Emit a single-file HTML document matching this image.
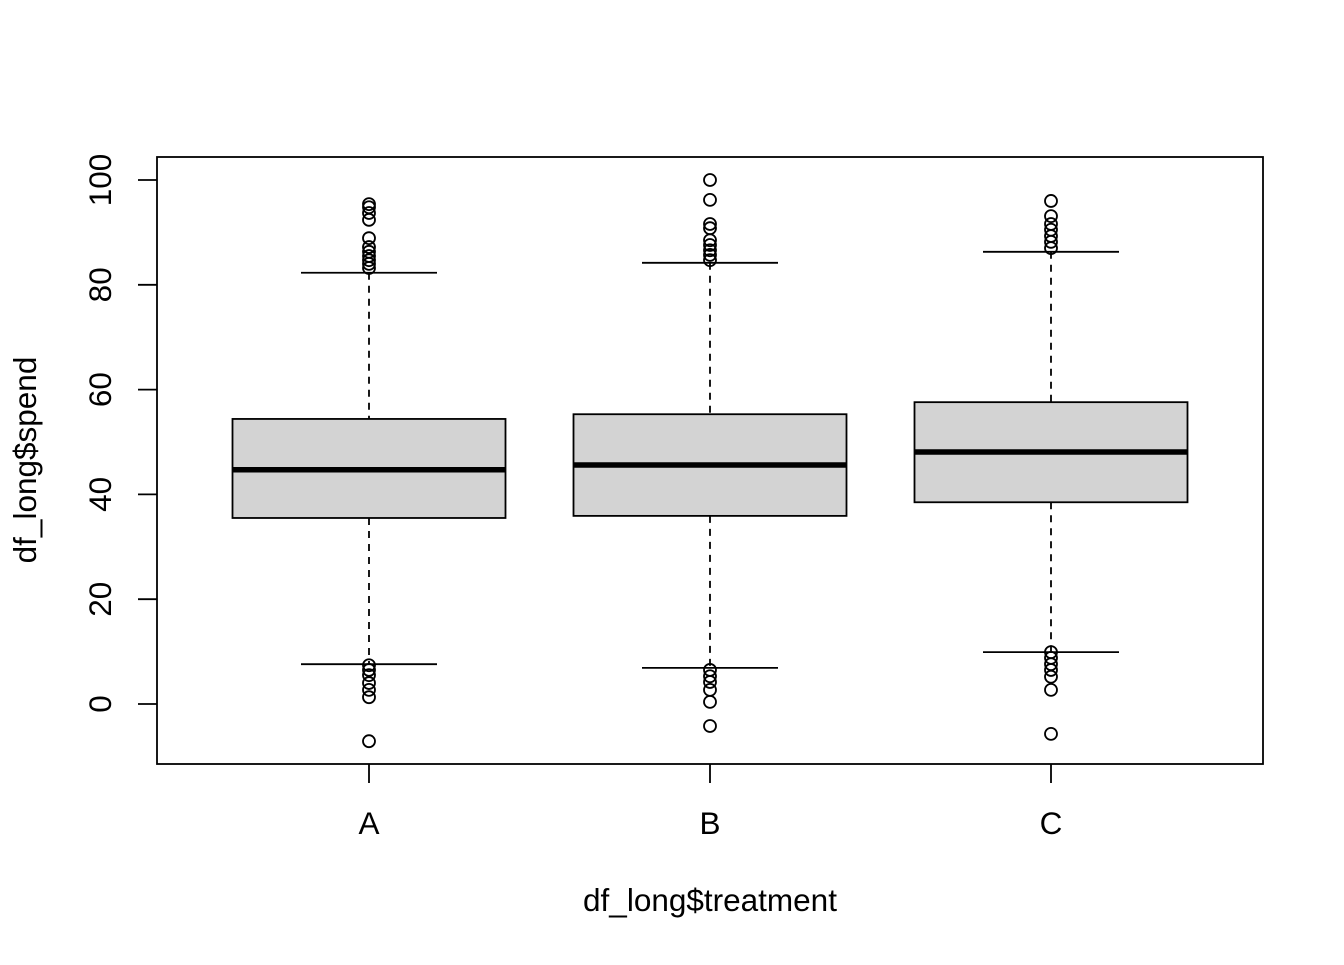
<!DOCTYPE html>
<html><head><meta charset="utf-8"><style>
body{margin:0;background:#fff}
svg{font-family:"Liberation Sans",Arial,sans-serif}
</style></head><body>
<svg id="c" width="1344" height="960"></svg>
<script>
const categories=["A","B","C"];
const q1=[35.5,35.9,38.5];
const medians=[44.7,45.6,48.1];
const q3=[54.4,55.3,57.6];
const whiskLo=[7.6,6.9,9.9];
const whiskHi=[82.3,84.2,86.3];
const outliersA=[95.4,94.8,93.7,92.4,88.9,87.2,86.3,85.5,84.7,84.0,83.2,7.4,6.5,5.5,4.0,2.7,1.3,-7.1];
const outliersB=[100,96.2,91.6,90.8,88.5,87.6,86.6,85.7,84.7,6.5,5.3,4.2,2.7,0.4,-4.2];
const outliersC=[96,93.1,91.6,90.5,89.3,88.2,87.0,9.9,8.8,7.6,6.5,5.2,2.7,-5.7];
const outliers=[outliersA,outliersB,outliersC];
const yTicks=[0,20,40,60,80,100];

const NS="http://www.w3.org/2000/svg";
const svg=document.getElementById('c');
function y(v){return 704-v*5.24;}
function x(i){return 369+i*341;}
function mk(t,a,p){const e=document.createElementNS(NS,t);for(const k in a)e.setAttribute(k,a[k]);(p||svg).appendChild(e);return e;}

let frame=mk('rect',{x:157,y:157,width:1106,height:607,fill:'none',stroke:'#000','stroke-width':1.8});



yTicks.forEach(t=>{
  const g=mk('g',{});
  
  
  mk('line',{x1:138,x2:157,y1:y(t),y2:y(t),stroke:'#000','stroke-width':1.8},g);
  const tx=mk('text',{x:111,y:y(t),'font-size':31.5,'text-anchor':'middle',transform:`rotate(-90 111 ${y(t)})`},g);
  tx.textContent=t;
});

categories.forEach((c,i)=>{
  const cx=x(i),hw=136.5;
  const g=mk('g',{});
  
  
  mk('line',{x1:cx,x2:cx,y1:y(whiskHi[i]),y2:y(q3[i]),stroke:'#000','stroke-width':1.8,'stroke-dasharray':'7,6'},g);
  mk('line',{x1:cx,x2:cx,y1:y(q1[i]),y2:y(whiskLo[i]),stroke:'#000','stroke-width':1.8,'stroke-dasharray':'7,6'},g);
  mk('line',{x1:cx-68,x2:cx+68,y1:y(whiskHi[i]),y2:y(whiskHi[i]),stroke:'#000','stroke-width':1.8},g);
  mk('line',{x1:cx-68,x2:cx+68,y1:y(whiskLo[i]),y2:y(whiskLo[i]),stroke:'#000','stroke-width':1.8},g);
  mk('rect',{x:cx-hw,y:y(q3[i]),width:2*hw,height:y(q1[i])-y(q3[i]),fill:'#d3d3d3',stroke:'#000','stroke-width':1.8},g);
  mk('line',{x1:cx-hw,x2:cx+hw,y1:y(medians[i]),y2:y(medians[i]),stroke:'#000','stroke-width':5.5},g);
  outliers[i].forEach(v=>{
    const o=mk('circle',{cx:cx,cy:y(v),r:6,fill:'none',stroke:'#000','stroke-width':1.8},g);
    
    
  });
  const tk=mk('line',{x1:cx,x2:cx,y1:764,y2:783,stroke:'#000','stroke-width':1.8});
  
  
  const t=mk('text',{x:cx,y:834,'font-size':31.5,'text-anchor':'middle'});
  
  
  t.textContent=c;
});
let xt=mk('text',{x:710,y:911,'font-size':31.5,'text-anchor':'middle'});


xt.textContent='df_long$treatment';
let yt=mk('text',{x:36,y:460,'font-size':31.5,'text-anchor':'middle',transform:'rotate(-90 36 460)'});


yt.textContent='df_long$spend';
</script>
</body></html>
